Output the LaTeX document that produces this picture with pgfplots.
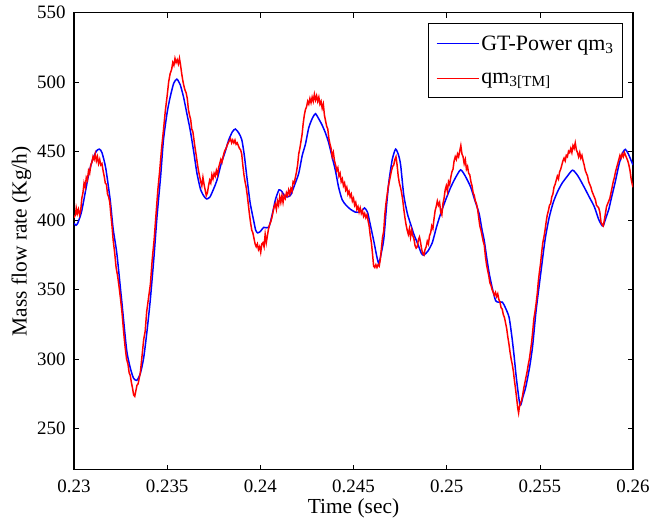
\documentclass[border=0pt]{standalone}
\usepackage{pgfplots}
\pgfplotsset{compat=1.18}
\usepackage{fontspec}
\setmainfont{Liberation Serif}
\begin{document}
\begin{tikzpicture}
\begin{axis}[
  name=ax,
  scale only axis,
  width=559bp, height=457bp,
  xmin=0.23, xmax=0.26, ymin=220, ymax=550,
  xtick={0.23,0.235,0.24,0.245,0.25,0.255,0.26},
  xticklabels={0.23,0.235,0.24,0.245,0.25,0.255,0.26},
  ytick={250,300,350,400,450,500,550},
  scaled x ticks=false,
  tick align=inside,
  major tick length=5bp,
  tick style={black, line width=0.6bp},
  axis line style={line width=1.2bp},
  ticklabel style={font=\fontsize{19}{21}\selectfont},
  /pgf/number format/assume math mode=true,
  xlabel={Time (sec)},
  ylabel={Mass flow rate (Kg/h)},
  label style={font=\fontsize{21.5}{23}\selectfont},
  xlabel style={yshift=1bp},
  ylabel style={yshift=-1bp},
  xticklabel style={yshift=-7bp},
  yticklabel style={xshift=-5bp},
  legend style={at={(0.982,0.978)}, anchor=north east, draw=black, line width=0.8bp,
    font=\fontsize{22}{24}\selectfont, inner ysep=2bp, inner xsep=7bp,
    nodes={inner ysep=10.5bp}},
  legend cell align=left,
  legend image code/.code={\draw[#1, line width=1.5bp] (0bp,0bp) -- (42bp,0bp);},
]
\addplot[blue, line width=1.5bp, smooth, tension=0.4] coordinates {
(0.23000,398) (0.23010,396.5) (0.23020,398) (0.23040,406) (0.23060,420) (0.23080,434)
(0.23100,444) (0.23120,450) (0.23136,451.5) (0.23150,449) (0.23170,438) (0.23194,415)
(0.23210,394) (0.23230,376) (0.23256,342) (0.23283,306) (0.23305,292) (0.23320,286)
(0.23337,284.5) (0.23355,289) (0.23373,300) (0.23390,318) (0.23409,342) (0.23430,375)
(0.23445,402) (0.23465,432) (0.23480,458) (0.23500,478) (0.23516,489) (0.23535,499)
(0.23552,502) (0.23570,498) (0.23588,489) (0.23606,477) (0.23624,465) (0.23642,450)
(0.23660,434) (0.23680,422) (0.23700,417) (0.23713,415.5) (0.23730,417) (0.23750,423)
(0.23767,429) (0.23790,441) (0.23810,449) (0.23830,458) (0.23850,464) (0.23866,466)
(0.23885,463) (0.23901,458) (0.23915,446) (0.23928,431) (0.23945,413) (0.23964,400)
(0.23975,393) (0.23985,391) (0.24000,392) (0.24018,395) (0.24045,395) (0.24065,405)
(0.24081,415) (0.24100,422) (0.24115,421) (0.24134,417) (0.24161,418) (0.24185,426)
(0.24206,434) (0.24225,447) (0.24242,455) (0.24260,467) (0.24280,474) (0.24296,477)
(0.24315,473) (0.24331,469) (0.24350,463) (0.24367,456) (0.24385,446) (0.24403,436)
(0.24420,424) (0.24439,415) (0.24460,411) (0.24484,408) (0.24510,406) (0.24529,406)
(0.24545,407) (0.24559,409) (0.24575,406) (0.24590,397) (0.24609,385) (0.24625,374)
(0.24636,369) (0.24650,377) (0.24663,387) (0.24677,410) (0.24690,428) (0.24708,444)
(0.24726,451.5) (0.24742,447) (0.24753,440) (0.24770,418) (0.24789,405) (0.24805,398)
(0.24824,390) (0.24845,383) (0.24865,376) (0.24878,375) (0.24900,378) (0.24923,384)
(0.24945,395) (0.24968,405) (0.24995,415) (0.25022,424) (0.25048,431) (0.25075,436.5)
(0.25100,432) (0.25129,424) (0.25150,415) (0.25174,405) (0.25190,393) (0.25201,386)
(0.25215,373) (0.25228,362) (0.25245,351) (0.25263,342) (0.25280,341) (0.25299,341)
(0.25315,337) (0.25335,330) (0.25350,316) (0.25362,302) (0.25375,285) (0.25394,266.5)
(0.25410,273) (0.25425,280) (0.25445,294) (0.25461,309) (0.25480,335) (0.25505,362)
(0.25528,386) (0.25550,402) (0.25572,413) (0.25595,420.7) (0.25620,427) (0.25648,432)
(0.25676,436.3) (0.25705,432) (0.25738,424) (0.25765,417) (0.25792,410) (0.25815,401)
(0.25830,397) (0.25840,396) (0.25855,402) (0.25870,408) (0.25882,415) (0.25905,428)
(0.25926,441) (0.25945,449) (0.25959,451.3) (0.25975,448) (0.26000,440)
};
\addlegendentry{GT-Power qm\textsubscript{3}}
\addplot[red, line width=1.5bp] coordinates {
(0.23000,402) (0.23008,404) (0.23012,409) (0.23018,405) (0.23024,408) (0.23030,404)
(0.23036,407) (0.23042,416) (0.23048,420) (0.23054,427) (0.23060,424) (0.23066,431)
(0.23072,429) (0.23078,436) (0.23084,434) (0.23090,440) (0.23096,442) (0.23102,446)
(0.23108,444) (0.23114,448) (0.23120,443) (0.23126,446) (0.23132,441) (0.23138,444)
(0.23144,440) (0.23150,441) (0.23156,436) (0.23162,432) (0.23168,427) (0.23174,426)
(0.23180,419) (0.23186,417) (0.23192,413) (0.23198,404) (0.23204,396) (0.23210,386)
(0.23218,377) (0.23226,366) (0.23234,360) (0.23242,352) (0.23250,343) (0.23258,333)
(0.23266,320) (0.23274,309) (0.23282,300) (0.23290,296) (0.23296,290) (0.23302,288)
(0.23308,283) (0.23314,279) (0.23320,274) (0.23326,273) (0.23332,277) (0.23338,281)
(0.23344,282) (0.23350,286) (0.23356,290) (0.23362,298) (0.23368,306) (0.23374,314)
(0.23382,320) (0.23390,334) (0.23400,344) (0.23410,354) (0.23420,372) (0.23430,386)
(0.23440,404) (0.23450,422) (0.23460,436) (0.23470,452) (0.23480,465) (0.23490,479)
(0.23500,490) (0.23508,500) (0.23516,506) (0.23524,509) (0.23530,514) (0.23536,512)
(0.23542,517) (0.23548,514) (0.23554,516) (0.23560,513) (0.23566,517) (0.23572,512)
(0.23578,506) (0.23584,501) (0.23590,497) (0.23596,494) (0.23602,492) (0.23608,488)
(0.23614,480) (0.23620,476) (0.23626,473) (0.23632,466) (0.23638,464) (0.23644,458)
(0.23650,452) (0.23656,447) (0.23662,441) (0.23668,436) (0.23674,432) (0.23680,428)
(0.23686,425) (0.23692,431) (0.23698,426) (0.23704,422) (0.23710,418) (0.23716,420)
(0.23722,425) (0.23728,429) (0.23734,427) (0.23740,433) (0.23746,430) (0.23752,434)
(0.23758,432) (0.23764,436) (0.23770,433) (0.23776,438) (0.23782,441) (0.23788,444)
(0.23794,442) (0.23800,446) (0.23808,450) (0.23816,452) (0.23824,455) (0.23832,457)
(0.23840,459) (0.23846,456) (0.23852,458) (0.23858,456) (0.23864,458) (0.23870,455)
(0.23876,456) (0.23882,454) (0.23888,452) (0.23894,451) (0.23900,448) (0.23906,440)
(0.23912,433) (0.23918,428) (0.23924,424) (0.23930,418) (0.23936,411) (0.23942,404)
(0.23948,398) (0.23954,393) (0.23960,391) (0.23966,387) (0.23972,383) (0.23978,381)
(0.23984,383) (0.23990,379) (0.23996,381) (0.24002,377) (0.24008,383) (0.24014,384)
(0.24020,381) (0.24026,390) (0.24032,384) (0.24038,389) (0.24044,394) (0.24050,397)
(0.24056,399) (0.24062,402) (0.24068,406) (0.24074,410) (0.24080,412) (0.24086,408)
(0.24092,414) (0.24098,411) (0.24104,417) (0.24110,413) (0.24116,418) (0.24122,413)
(0.24128,418) (0.24134,416) (0.24140,420) (0.24146,418) (0.24152,422) (0.24158,419)
(0.24164,423) (0.24170,421) (0.24176,428) (0.24182,427) (0.24188,431) (0.24194,435)
(0.24200,440) (0.24206,448) (0.24212,452) (0.24218,457) (0.24224,462) (0.24230,470)
(0.24236,476) (0.24242,480) (0.24248,482) (0.24254,486) (0.24260,484) (0.24266,488)
(0.24272,485) (0.24278,489) (0.24284,486) (0.24290,491) (0.24296,487) (0.24302,490)
(0.24308,486) (0.24314,489) (0.24320,484) (0.24326,486) (0.24332,481) (0.24338,484)
(0.24344,476) (0.24350,472) (0.24356,468) (0.24362,466) (0.24368,459) (0.24374,455)
(0.24380,452) (0.24386,446) (0.24392,449) (0.24398,443) (0.24404,440) (0.24410,436)
(0.24416,438) (0.24422,432) (0.24428,434) (0.24434,428) (0.24440,430) (0.24446,425)
(0.24452,427) (0.24458,422) (0.24464,424) (0.24470,419) (0.24476,421) (0.24482,417)
(0.24488,419) (0.24494,414) (0.24500,416) (0.24506,411) (0.24512,413) (0.24518,408)
(0.24524,410) (0.24530,406) (0.24536,409) (0.24542,405) (0.24548,407) (0.24554,403)
(0.24560,405) (0.24566,402) (0.24572,404) (0.24578,400) (0.24584,396) (0.24590,389)
(0.24596,384) (0.24602,376) (0.24608,367) (0.24614,366) (0.24620,368) (0.24626,366)
(0.24632,368) (0.24638,367) (0.24644,372) (0.24650,380) (0.24656,388) (0.24662,392)
(0.24668,404) (0.24674,412) (0.24680,418) (0.24686,424) (0.24692,428) (0.24698,432)
(0.24704,436) (0.24710,439) (0.24716,440) (0.24722,444) (0.24728,446) (0.24734,440)
(0.24740,432) (0.24746,427) (0.24752,424) (0.24758,420) (0.24764,415) (0.24770,408)
(0.24776,402) (0.24782,397) (0.24788,393) (0.24794,390) (0.24800,394) (0.24806,388)
(0.24812,393) (0.24818,389) (0.24824,387) (0.24830,382) (0.24836,380) (0.24842,381)
(0.24848,386) (0.24854,388) (0.24860,384) (0.24866,379) (0.24872,376) (0.24878,375)
(0.24884,379) (0.24890,381) (0.24896,385) (0.24902,383) (0.24908,389) (0.24914,391)
(0.24920,396) (0.24926,394) (0.24932,401) (0.24938,407) (0.24944,410) (0.24950,414)
(0.24956,411) (0.24962,413) (0.24968,406) (0.24974,404) (0.24980,412) (0.24986,416)
(0.24992,422) (0.24998,425) (0.25004,421) (0.25010,428) (0.25016,426) (0.25022,431)
(0.25028,435) (0.25034,437) (0.25040,443) (0.25046,446) (0.25052,444) (0.25058,448)
(0.25064,446) (0.25070,450) (0.25076,454) (0.25082,448) (0.25088,446) (0.25094,441)
(0.25100,444) (0.25106,437) (0.25112,439) (0.25118,434) (0.25124,433) (0.25130,428)
(0.25136,425) (0.25142,420) (0.25148,418) (0.25154,414) (0.25160,412) (0.25166,408)
(0.25172,402) (0.25178,396) (0.25184,393) (0.25190,389) (0.25196,385) (0.25202,382)
(0.25208,374) (0.25214,368) (0.25220,364) (0.25226,360) (0.25232,355) (0.25238,353)
(0.25244,350) (0.25250,348) (0.25256,346) (0.25262,348) (0.25268,345) (0.25274,347)
(0.25280,343) (0.25286,341) (0.25292,337) (0.25298,336) (0.25304,332) (0.25310,330)
(0.25316,326) (0.25322,322) (0.25328,316) (0.25334,311) (0.25340,305) (0.25346,300)
(0.25352,296) (0.25358,291) (0.25364,284) (0.25370,278) (0.25376,271) (0.25382,264)
(0.25386,261) (0.25390,265) (0.25396,268) (0.25402,270) (0.25408,274) (0.25414,279)
(0.25420,283) (0.25426,287) (0.25432,291) (0.25438,296) (0.25444,300) (0.25450,306)
(0.25456,312) (0.25462,320) (0.25468,329) (0.25474,334) (0.25480,340) (0.25486,347)
(0.25492,356) (0.25498,363) (0.25504,369) (0.25510,377) (0.25516,384) (0.25522,388)
(0.25528,393) (0.25534,399) (0.25540,404) (0.25546,407) (0.25552,411) (0.25558,412)
(0.25564,417) (0.25570,419) (0.25576,424) (0.25582,426) (0.25588,429) (0.25594,432)
(0.25600,430) (0.25606,435) (0.25612,437) (0.25618,440) (0.25624,443) (0.25630,445)
(0.25636,443) (0.25642,447) (0.25648,446) (0.25654,450) (0.25660,449) (0.25666,452)
(0.25672,449) (0.25678,454) (0.25684,452) (0.25690,456) (0.25696,451) (0.25702,449)
(0.25708,446) (0.25714,449) (0.25720,445) (0.25726,447) (0.25732,443) (0.25738,440)
(0.25744,436) (0.25750,434) (0.25756,432) (0.25762,428) (0.25768,426) (0.25774,424)
(0.25780,421) (0.25786,419) (0.25792,417) (0.25798,415) (0.25804,411) (0.25810,410)
(0.25816,409) (0.25822,406) (0.25828,399) (0.25834,397) (0.25840,396) (0.25846,400)
(0.25852,405) (0.25858,410) (0.25864,412) (0.25870,414) (0.25876,416) (0.25882,420)
(0.25888,424) (0.25894,428) (0.25900,431) (0.25906,435) (0.25912,438) (0.25918,441)
(0.25924,444) (0.25930,447) (0.25936,445) (0.25942,448) (0.25948,446) (0.25954,449)
(0.25960,447) (0.25966,445) (0.25972,443) (0.25978,440) (0.25984,436) (0.25990,430)
(0.25996,426) (0.26000,424)
};
\addlegendentry{qm\textsubscript{3[TM]}}
\end{axis}
\pgfresetboundingbox
\path ([shift={(-74bp,-49bp)}]ax.south west) rectangle ([shift={(19bp,12.7bp)}]ax.north east);
\end{tikzpicture}
\end{document}
